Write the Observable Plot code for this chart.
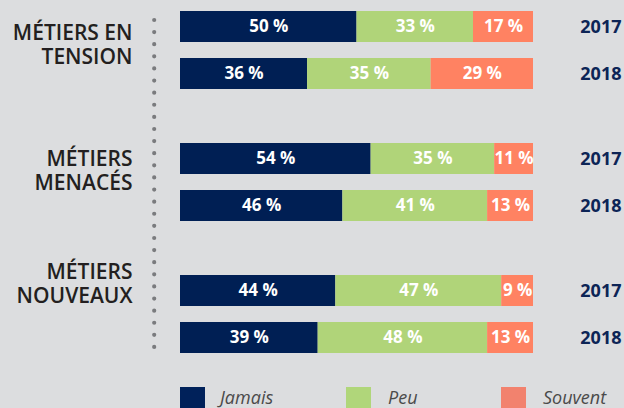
<!DOCTYPE html>
<html><head><meta charset="utf-8">
<script src="https://cdn.jsdelivr.net/npm/d3@7"></script>
<script src="https://cdn.jsdelivr.net/npm/@observablehq/plot@0.6"></script>
<style>
html,body{margin:0;padding:0;background:#dcdddf;width:624px;height:408px;overflow:hidden;}
#wrap{position:relative;width:624px;height:408px;font-family:"Open Sans",sans-serif;}
#chart{position:absolute;left:0;top:0;}
.sw{position:absolute;top:387px;width:25px;height:25px;}
.lt{position:absolute;top:388px;font-style:italic;font-size:18px;line-height:18px;color:#4a4a4a;font-family:"Open Sans",sans-serif;}
</style></head><body>
<div id="wrap"><div id="chart"></div><div id="legend"></div></div>
<script>
// Data
const groups = ["tension", "menaces", "nouveaux"];
const groupLabels = ["MÉTIERS EN\nTENSION", "MÉTIERS\nMENACÉS", "MÉTIERS\nNOUVEAUX"];
const years = ["2017", "2018"];
const categories = ["Jamais", "Peu", "Souvent"];
const jamais  = [50, 36, 54, 46, 44, 39];
const peu     = [33, 35, 35, 41, 47, 48];
const souvent = [17, 29, 11, 13, 9, 13];

const barColors = ["#001f54", "#b0d479", "#ff8262"];
const legendColors = ["#00215a", "#b0d67a", "#f2826e"];
const navy = "#0d2456";

const series = [jamais, peu, souvent];
const rows = [];
const yearRows = [];
groups.forEach((g, gi) => {
  years.forEach((yr, yi) => {
    const idx = gi * 2 + yi;
    yearRows.push({group: g, year: yr});
    categories.forEach((c, ci) => {
      rows.push({group: g, year: yr, cat: c, value: series[ci][idx]});
    });
  });
});
const labelRows = groups.map((g, i) => ({group: g, label: groupLabels[i]}));
const labelDy = [-6, -12, -31.5];

const chart = Plot.plot({
  width: 624,
  height: 375,
  marginLeft: 180,
  marginRight: 91,
  marginTop: 3,
  marginBottom: 13,
  style: {background: "transparent", fontFamily: "'Open Sans', sans-serif", overflow: "visible"},
  x: {domain: [0, 100], axis: null},
  y: {domain: years, axis: null, paddingInner: 0.35, paddingOuter: 0.15},
  fy: {domain: groups, axis: null, paddingInner: 0.3, paddingOuter: 0},
  color: {domain: categories, range: barColors},
  marks: [
    Plot.ruleX([{group: groups[0]}], {x: () => 0, fy: "group", dx: -26.3, insetTop: 16, insetBottom: -262, stroke: "#7a7b7e", strokeWidth: 4.2, strokeLinecap: "round", strokeDasharray: "0 12.11"}),
    Plot.barX(rows, Plot.stackX({x: "value", y: "year", fy: "group", fill: "cat"})),
    Plot.text(rows, Plot.stackX({x: "value", y: "year", fy: "group", z: "cat", text: d => `${d.value} %`, fill: "white", fontWeight: 700, fontSize: 17})),
    Plot.text(yearRows, {y: "year", fy: "group", text: "year", frameAnchor: "right", textAnchor: "end", dx: 88, fill: navy, fontWeight: 700, fontSize: 18}),
    ...labelRows.map((r, i) => Plot.text([r], {fy: "group", text: "label", frameAnchor: "left", textAnchor: "end", dx: -48, dy: labelDy[i], lineHeight: 1.15, fontSize: 21, fontWeight: 600, fill: "#231f20"}))
  ]
});
document.getElementById("chart").appendChild(chart);

// Legend
const legend = document.getElementById("legend");
const swX = [180, 346, 501];
const txX = [220, 388, 543];
categories.forEach((c, i) => {
  const s = document.createElement("div");
  s.className = "sw"; s.style.left = swX[i] + "px"; s.style.background = legendColors[i];
  legend.appendChild(s);
  const t = document.createElement("div");
  t.className = "lt"; t.style.left = txX[i] + "px"; t.textContent = c;
  legend.appendChild(t);
});
</script>
</body></html>
